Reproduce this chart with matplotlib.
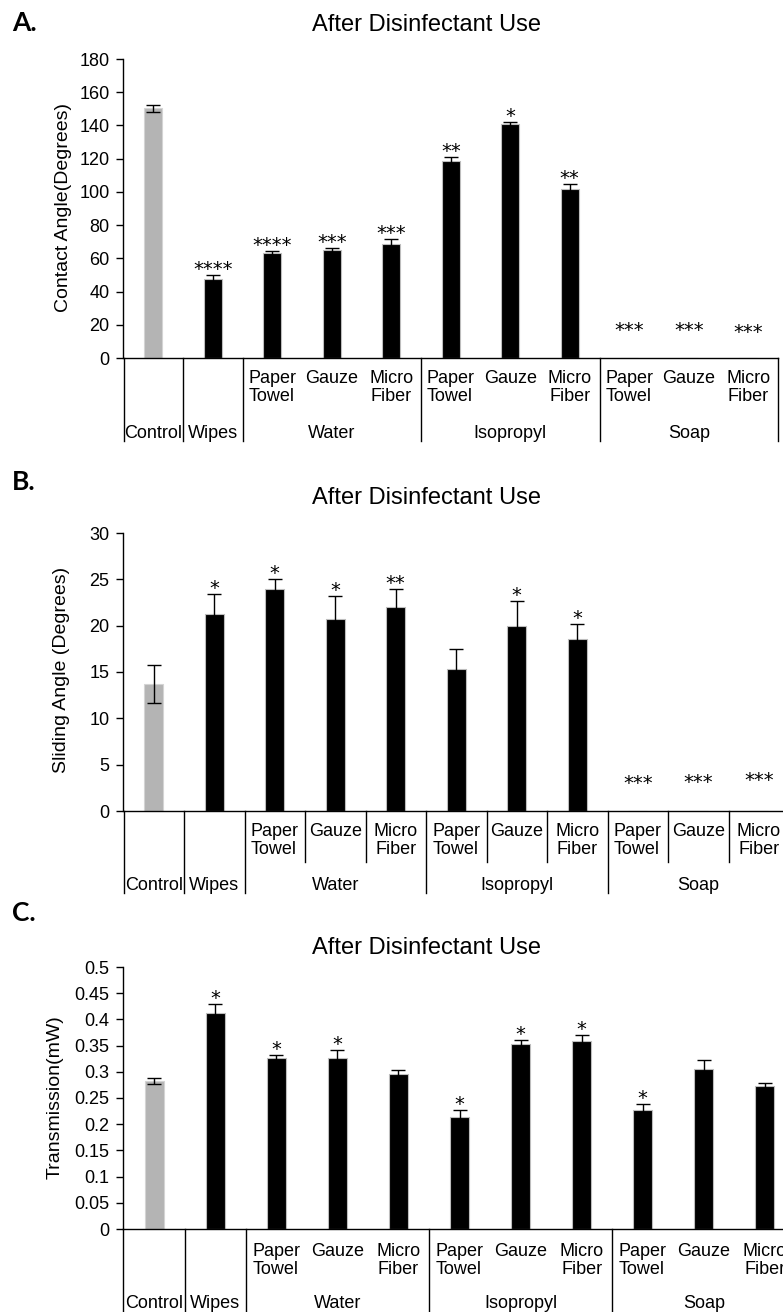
import matplotlib
matplotlib.use('Agg')
import matplotlib.pyplot as plt
import matplotlib.transforms as mtransforms
from matplotlib.ticker import FuncFormatter

plt.rcParams['font.family'] = ['Liberation Sans', 'DejaVu Sans']

# ---------------- data ----------------
sub_labels = ['', '', 'Paper\nTowel', 'Gauze', 'Micro\nFiber',
              'Paper\nTowel', 'Gauze', 'Micro\nFiber',
              'Paper\nTowel', 'Gauze', 'Micro\nFiber']
group_labels = ['Control', 'Wipes', 'Water', 'Isopropyl', 'Soap']
group_first = [0, 1, 2, 5, 8]
group_last = [0, 1, 4, 7, 10]

contact_angle = [150.3, 47.4, 63.4, 64.8, 68.8, 118.4, 140.6, 102.0, 0, 0, 0]
contact_err = [2.0, 2.4, 1.2, 1.6, 2.6, 2.4, 1.6, 2.7, 0, 0, 0]
contact_stars = ['', '****', '****', '***', '***', '**', '*', '**', '***', '***', '***']
contact_star_y_zero = [13.2, 13.2, 12.2]

sliding_angle = [13.7, 21.3, 24.0, 20.7, 22.0, 15.3, 20.0, 18.6, 0, 0, 0]
sliding_err = [2.05, 2.1, 1.05, 2.5, 2.0, 2.15, 2.65, 1.6, 0, 0, 0]
sliding_stars = ['', '*', '*', '*', '**', '', '*', '*', '***', '***', '***']
sliding_star_y_zero = [2.37, 2.48, 2.7]

transmission = [0.283, 0.413, 0.326, 0.326, 0.2965, 0.213, 0.3537, 0.3594, 0.2265, 0.306, 0.273]
transmission_err = [0.006, 0.016, 0.007, 0.016, 0.006, 0.015, 0.0064, 0.0114, 0.0115, 0.0165, 0.0064]
transmission_stars = ['', '*', '*', '*', '', '*', '*', '*', '*', '', '']

W, H = 783, 1312
fig = plt.figure(figsize=(W / 100, H / 100), dpi=100)


def fy(px):
    return 1 - px / H


def rect(l, r, t, b):
    return [l / W, 1 - b / H, (r - l) / W, (b - t) / H]


def panel(pos, values, errs, stars, zero_star_y, ylim, yticks, ylabel,
          letter, letter_y, title_y, ylab_xy, y0_px, sub_top, grp_center,
          grp_bottom, inner_bottom=None):
    ax = fig.add_axes(pos)
    n = len(values)
    xs = list(range(n))
    colors = ['#b4b4b4'] + ['#000000'] * (n - 1)
    edges = ['#d4d4d4'] + ['#bdbdbd'] * (n - 1)
    ax.bar(xs, values, width=0.31, color=colors, edgecolor=edges, linewidth=0.8, zorder=2)
    for i in xs:
        if values[i] > 0:
            ax.errorbar(i, values[i], yerr=errs[i], fmt='none', ecolor='black',
                        elinewidth=1.0, capsize=5, capthick=1.0, zorder=3)
    zi = 0
    for i in xs:
        s = stars[i]
        if not s:
            continue
        if values[i] > 0:
            ax.annotate(s, (i, values[i] + errs[i]), xytext=(0, 0),
                        textcoords='offset points', ha='center', va='baseline',
                        fontsize=14, family='DejaVu Sans')
        else:
            ax.text(i, zero_star_y[zi], s, ha='center', va='baseline', fontsize=14,
                    family='DejaVu Sans')
            zi += 1
    ax.set_xlim(-0.5, n - 0.5)
    ax.set_ylim(*ylim)
    ax.set_yticks(yticks)
    ax.yaxis.set_major_formatter(FuncFormatter(lambda v, p: f'{v:g}'))
    ax.tick_params(axis='y', direction='out', length=5, width=1, labelsize=13, pad=5)
    ax.tick_params(axis='x', bottom=False, labelbottom=False)
    for sp in ['top', 'right']:
        ax.spines[sp].set_visible(False)
    ax.spines['left'].set_linewidth(1)
    ax.spines['bottom'].set_linewidth(1)

    trans = mtransforms.blended_transform_factory(ax.transData, fig.transFigure)
    bounds = [-0.5] + [g + 0.5 for g in group_last]
    for b in bounds:
        ax.plot([b, b], [fy(y0_px), fy(grp_bottom)], color='black', lw=1,
                transform=trans, clip_on=False)
    if inner_bottom is not None:
        for g0, g1 in zip(group_first, group_last):
            for k in range(g0, g1):
                ax.plot([k + 0.5, k + 0.5], [fy(y0_px), fy(inner_bottom)],
                        color='black', lw=1, transform=trans, clip_on=False)
    for i, lab in enumerate(sub_labels):
        if lab:
            ma = 'left' if lab.startswith('Paper') else 'center'
            ax.text(i, fy(sub_top), lab, transform=trans, ha='center', va='top',
                    fontsize=13, linespacing=1.05, multialignment=ma, clip_on=False)
    for lab, g0, g1 in zip(group_labels, group_first, group_last):
        ax.text((g0 + g1) / 2, fy(grp_center), lab, transform=trans, ha='center',
                va='center', fontsize=13, clip_on=False)

    fig.text(427 / W, fy(title_y), 'After Disinfectant Use', ha='center', va='center',
             fontsize=17)
    fig.text(12 / W, fy(letter_y), letter, ha='left', va='center', fontsize=19,
             fontweight='bold', family=['Lato', 'DejaVu Sans'])
    fig.text(ylab_xy[0] / W, fy(ylab_xy[1]), ylabel, rotation=90, ha='center',
             va='center', fontsize=14)
    return ax


panel(rect(123.5, 778, 59, 358), contact_angle, contact_err, contact_stars,
      contact_star_y_zero, (0, 180), range(0, 181, 20), 'Contact Angle(Degrees)',
      'A.', 23, 25, (64, 208), 358, 370, 433, 441)

panel(rect(123.5, 789, 533, 811), sliding_angle, sliding_err, sliding_stars,
      sliding_star_y_zero, (0, 30), range(0, 31, 5), 'Sliding Angle (Degrees)',
      'B.', 482, 498, (61, 670), 811, 823, 885, 893, inner_bottom=862)

panel(rect(123.5, 795.5, 967, 1229), transmission, transmission_err, transmission_stars,
      [], (0, 0.5), [i * 0.05 for i in range(11)], 'Transmission(mW)',
      'C.', 913, 948, (55, 1097), 1229, 1243, 1303, 1312)

fig.savefig('out.png', dpi=100)
